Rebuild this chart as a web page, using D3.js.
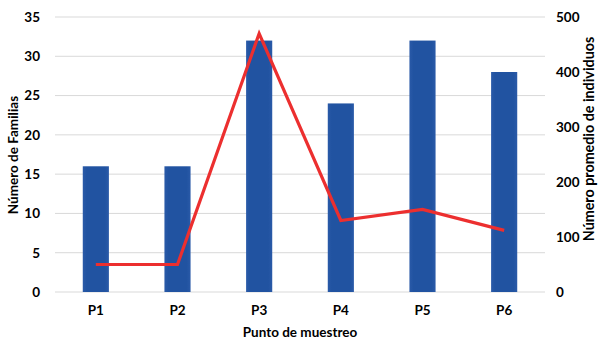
<!DOCTYPE html>
<html>
<head>
<meta charset="utf-8">
<script src="https://cdn.jsdelivr.net/npm/d3@7/dist/d3.min.js"></script>
<style>
  body { margin: 0; background: #fff; }
  text { font-family: Lato, "Open Sans", sans-serif; font-weight: bold; fill: #000; }
</style>
</head>
<body>
<svg id="chart" width="601" height="343"></svg>
<script>
// Sampling points and their measurements
const puntos = ["P1", "P2", "P3", "P4", "P5", "P6"];
const familias = [16, 16, 32, 24, 32, 28];          // bars, left axis
const individuos = [50, 50, 470, 130, 150, 112];    // line, right axis
const ticksFamilias = [0, 5, 10, 15, 20, 25, 30, 35];
const ticksIndividuos = [0, 100, 200, 300, 400, 500];

const svg = d3.select("#chart");
const m = { left: 55, right: 545, top: 17, bottom: 292 };

const x = d3.scaleBand().domain(puntos).range([m.left, m.right])
  .paddingInner(0.68).paddingOuter(0.34);
const yL = d3.scaleLinear().domain([0, 35]).range([m.bottom, m.top]);
const yR = d3.scaleLinear().domain([0, 500]).range([m.bottom, m.top]);

// Horizontal gridlines
svg.append("g")
  .selectAll("line")
  .data(ticksFamilias)
  .join("line")
  .attr("x1", m.left).attr("x2", m.right)
  .attr("y1", d => yL(d)).attr("y2", d => yL(d))
  .attr("stroke", "#d9d9d9").attr("stroke-width", 1);

// Bar gradient
const defs = svg.append("defs");
const grad = defs.append("linearGradient").attr("id", "barGrad")
  .attr("x1", 0).attr("x2", 1).attr("y1", 0).attr("y2", 0);
grad.append("stop").attr("offset", "0%").attr("stop-color", "#2a5aa8");
grad.append("stop").attr("offset", "15%").attr("stop-color", "#2153a1");
grad.append("stop").attr("offset", "85%").attr("stop-color", "#2153a1");
grad.append("stop").attr("offset", "100%").attr("stop-color", "#2a5aa8");

svg.append("g")
  .selectAll("rect")
  .data(puntos)
  .join("rect")
  .attr("x", d => x(d))
  .attr("width", x.bandwidth())
  .attr("y", (d, i) => yL(familias[i]))
  .attr("height", (d, i) => yL(0) - yL(familias[i]))
  .attr("fill", "url(#barGrad)");

// Line series on the right axis
const line = d3.line()
  .x((d, i) => x(puntos[i]) + x.bandwidth() / 2)
  .y(d => yR(d));
svg.append("path")
  .datum(individuos)
  .attr("d", line)
  .attr("fill", "none")
  .attr("stroke", "#ec2f2f")
  .attr("stroke-width", 3.2)
  .attr("stroke-linejoin", "miter");

const tickFont = sel => sel.selectAll("text")
  .style("font-size", "13.5px")
  .style("font-family", "Lato, sans-serif")
  .style("font-weight", "bold");

// Left axis
const axL = svg.append("g")
  .attr("transform", `translate(${m.left},0)`)
  .call(d3.axisLeft(yL).tickValues(ticksFamilias).tickSize(0).tickPadding(15));
axL.select(".domain").remove();
tickFont(axL);

// Right axis
const axR = svg.append("g")
  .attr("transform", `translate(${m.right},0)`)
  .call(d3.axisRight(yR).tickValues(ticksIndividuos).tickSize(0).tickPadding(11));
axR.select(".domain").remove();
tickFont(axR);

// Category axis
const axX = svg.append("g")
  .attr("transform", `translate(0,${m.bottom})`)
  .call(d3.axisBottom(x).tickSize(0).tickPadding(13));
axX.select(".domain").remove();
tickFont(axX);

// Axis titles
svg.append("text")
  .attr("x", 300).attr("y", 337)
  .attr("text-anchor", "middle")
  .style("font-size", "13.5px")
  .text("Punto de muestreo");

svg.append("text")
  .attr("transform", "translate(18,155) rotate(-90)")
  .attr("text-anchor", "middle")
  .style("font-size", "13.5px")
  .text("Número de Familias");

svg.append("text")
  .attr("transform", "translate(594,139) rotate(-90)")
  .attr("text-anchor", "middle")
  .style("font-size", "14.3px")
  .text("Número promedio de individuos");
</script>
</body>
</html>
